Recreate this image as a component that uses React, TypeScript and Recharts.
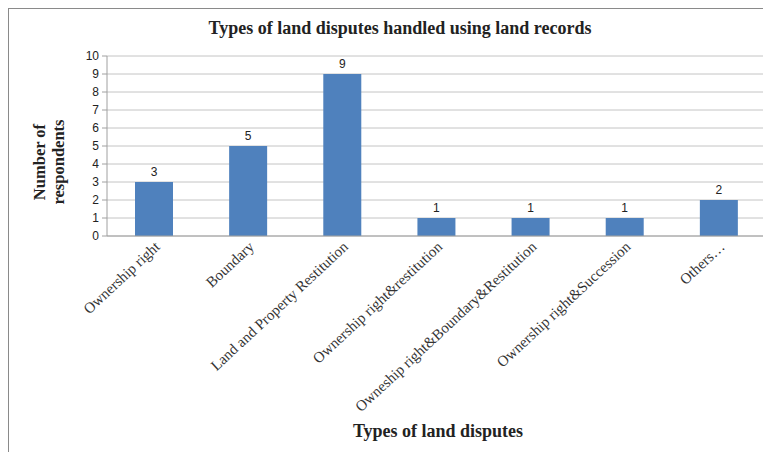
import { BarChart, Bar, XAxis, YAxis, CartesianGrid, LabelList } from 'recharts';

const categories = [
    'Ownership right',
    'Boundary',
    'Land and Property Restitution',
    'Ownership right&restitution',
    'Owneship right&Boundary&Restitution',
    'Ownership right&Succession',
    'Others…',
];
const respondents = [3, 5, 9, 1, 1, 1, 2];
const yTicks = [0, 1, 2, 3, 4, 5, 6, 7, 8, 9, 10];

const data = categories.map((name, i) => ({ name, value: respondents[i] }));

const serif = '"Liberation Serif", "DejaVu Serif", serif';
const sans = '"Liberation Sans", Arial, sans-serif';

const AngledTick = ({ x, y, payload }: any) => (
    <g transform={`translate(${x + 4},${y + 1})`}>
        <text transform="rotate(-43)" textAnchor="end" fontFamily={serif} fontSize={15} fill="#333" dy={4}>
            {payload.value}
        </text>
    </g>
);

export default function App() {
    return (
        <div style={{ position: 'relative', width: 763, height: 444, borderLeft: '1px solid #8a8a8a', borderTop: '1px solid #8a8a8a', boxSizing: 'border-box', background: '#fff' }}>
            <div style={{ position: 'absolute', top: 9, left: 0, width: 782, textAlign: 'center', fontFamily: serif, fontWeight: 700, fontSize: 18, color: '#222' }}>
                Types of land disputes handled using land records
            </div>
            <div style={{ position: 'absolute', left: 40 - 100, top: 134, width: 200, textAlign: 'center', transform: 'rotate(-90deg)', fontFamily: serif, fontWeight: 700, fontSize: 16.5, lineHeight: '19px', color: '#222' }}>
                Number of<br />respondents
            </div>
            <div style={{ position: 'absolute', top: 412, left: 329, width: 200, textAlign: 'center', fontFamily: serif, fontWeight: 700, fontSize: 18, color: '#222' }}>
                Types of land disputes
            </div>
            <BarChart width={763} height={444} data={data} margin={{ top: 47, right: 6, left: 0, bottom: 41 }} barSize={38}>
                <CartesianGrid vertical={false} stroke="#c4c4c4" />
                <XAxis dataKey="name" interval={0} height={176} tick={<AngledTick />} tickLine={false} axisLine={{ stroke: '#a0a0a0' }} />
                <YAxis width={98} domain={[0, 10]} ticks={yTicks} interval={0} tickSize={5} tickMargin={3}
                    axisLine={{ stroke: '#a0a0a0' }} tickLine={{ stroke: '#a0a0a0' }}
                    tick={{ fontFamily: sans, fontSize: 12, fill: '#222' }} />
                <Bar dataKey="value" fill="#4f81bd" isAnimationActive={false}>
                    <LabelList dataKey="value" position="top" offset={6} style={{ fontFamily: sans, fontSize: 12, fill: '#222' }} />
                </Bar>
            </BarChart>
        </div>
    );
}
